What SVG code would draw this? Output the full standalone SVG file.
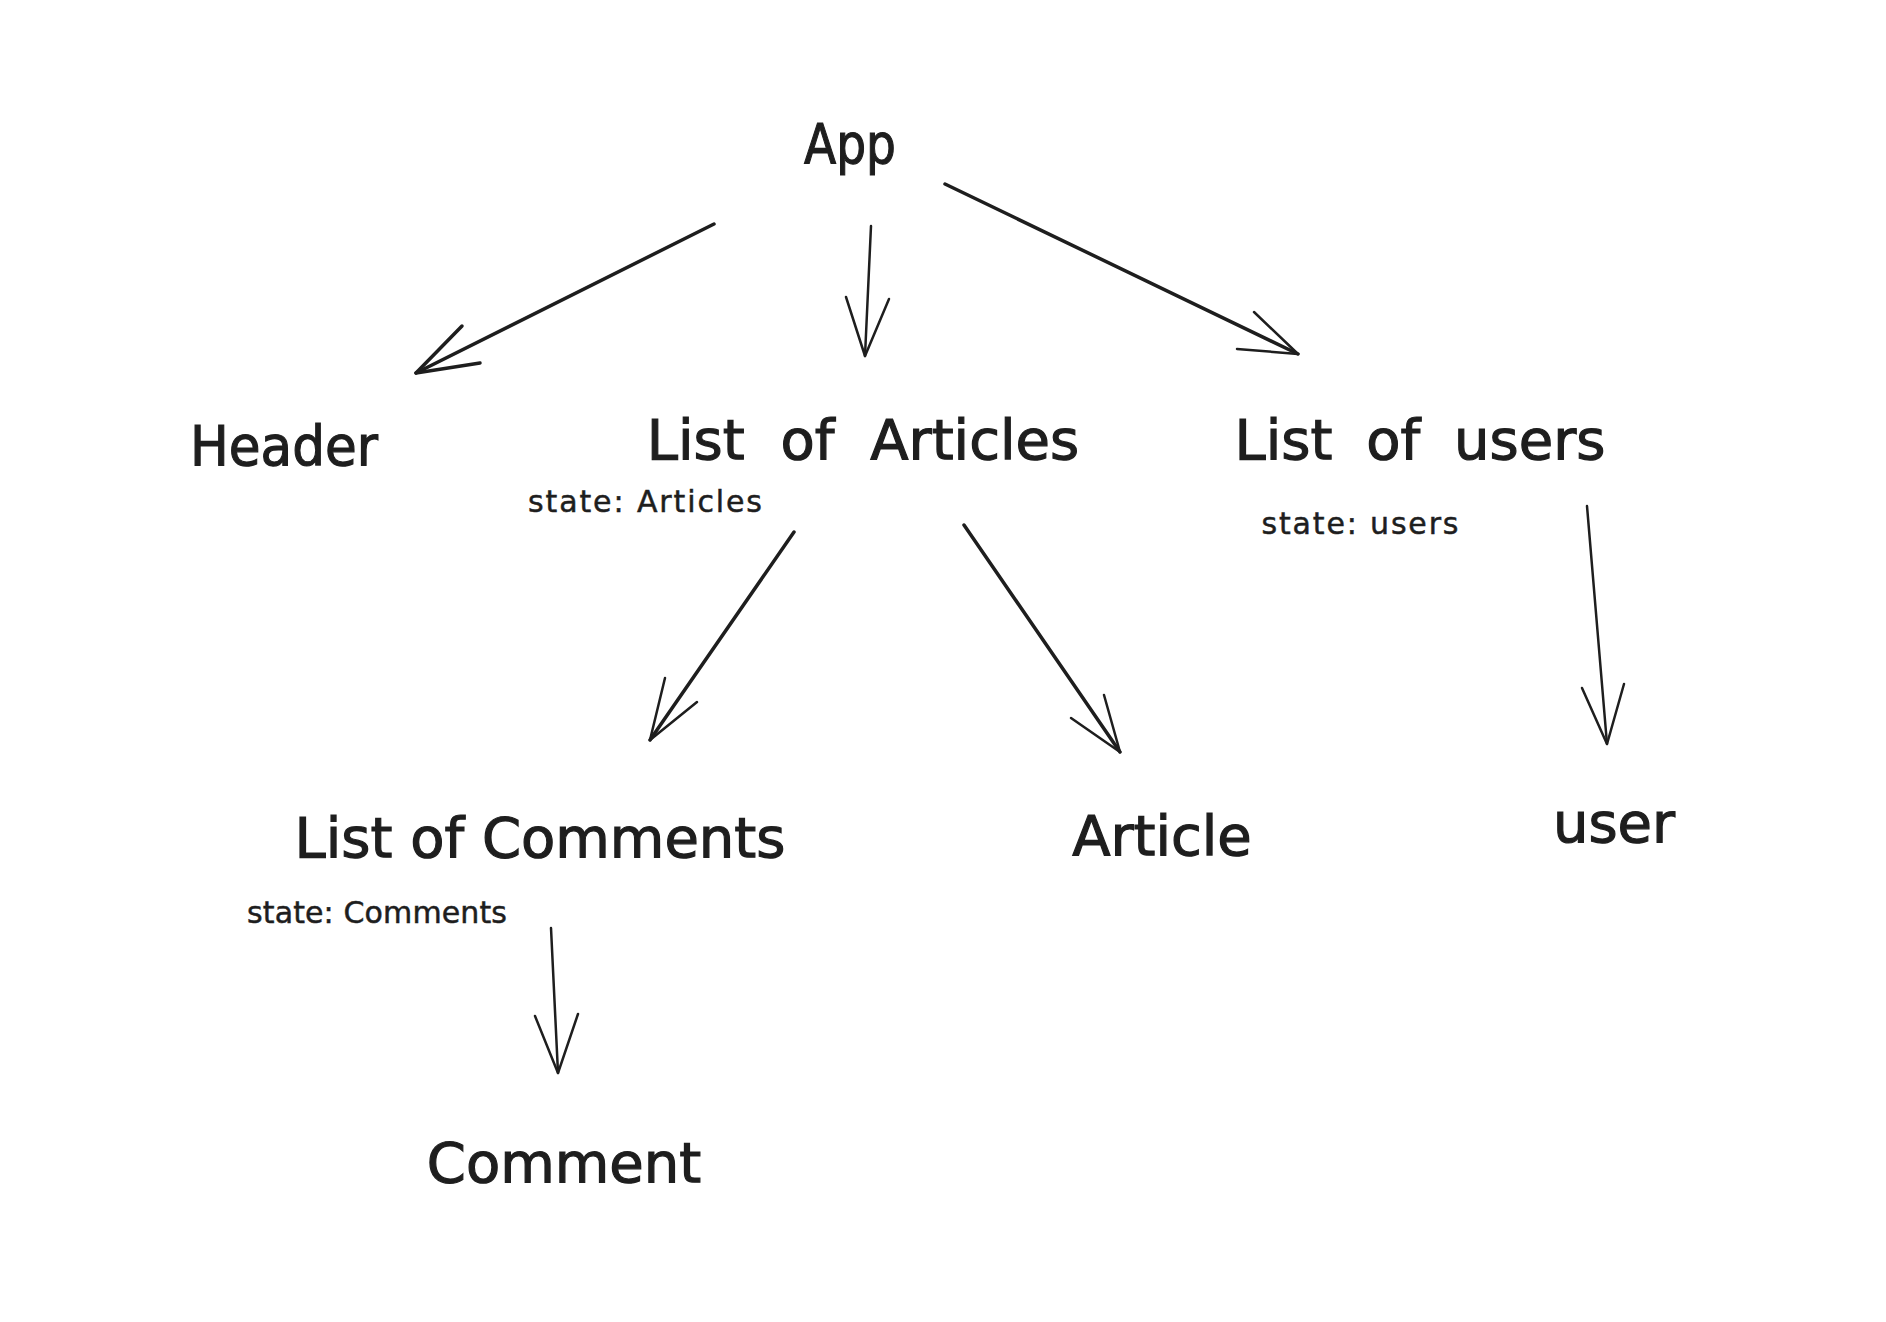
<svg xmlns="http://www.w3.org/2000/svg" width="1886" height="1322" viewBox="0 0 1886 1322">
<style>
.bg{fill:#ffffff}
.lbl{font-family:"DejaVu Sans","Liberation Sans",sans-serif;font-size:56px;fill:#1e1e1e;stroke:#1e1e1e;stroke-width:1.2;text-anchor:middle}
.sm{font-family:"DejaVu Sans","Liberation Sans",sans-serif;font-size:30px;fill:#1e1e1e;stroke:#1e1e1e;stroke-width:0.5;text-anchor:middle}
.ln{fill:none;stroke:#1e1e1e;stroke-width:2.5;stroke-linecap:round;stroke-linejoin:round}
.thick{stroke-width:3.5}
</style>
<rect class="bg" x="0" y="0" width="1886" height="1322"/>
<g id="connectors">
  <g id="app-header"><path class="ln thick" d="M714,224 L416,373"/><path class="ln thick" d="M462,326 L416,373 L480,363"/></g>
  <g id="app-articles"><path class="ln" d="M871,226 L865,356"/><path class="ln" d="M846,297 L865,356 L889,299"/></g>
  <g id="app-users"><path class="ln thick" d="M945,184 L1298,354"/><path class="ln" d="M1254,312 L1298,354 L1237,349"/></g>
  <g id="articles-comments"><path class="ln thick" d="M794,532 L650,740"/><path class="ln" d="M665,678 L650,740 L697,702"/></g>
  <g id="articles-article"><path class="ln thick" d="M964,525 L1120,752"/><path class="ln" d="M1104,695 L1120,752 L1071,718"/></g>
  <g id="users-user"><path class="ln" d="M1587,506 L1607,744"/><path class="ln" d="M1582,688 L1607,744 L1624,684"/></g>
  <g id="comments-comment"><path class="ln" d="M551,928 L558,1073"/><path class="ln" d="M535,1016 L558,1073 L578,1014"/></g>
</g>
<g id="node-app"><text class="lbl" x="850" y="163" textLength="92" lengthAdjust="spacingAndGlyphs">App</text></g>
<g id="node-header"><text class="lbl" x="284" y="465" textLength="188" lengthAdjust="spacingAndGlyphs">Header</text></g>
<g id="node-list-articles">
  <text class="lbl" x="863" y="459" word-spacing="18">List of Articles</text>
  <text class="sm" x="645" y="512" textLength="234">state: Articles</text>
</g>
<g id="node-list-users">
  <text class="lbl" x="1420" y="459" word-spacing="16">List of users</text>
  <text class="sm" x="1360" y="534" textLength="197">state: users</text>
</g>
<g id="node-list-comments">
  <text class="lbl" x="540" y="857">List of Comments</text>
  <text class="sm" x="377" y="923" textLength="260">state: Comments</text>
</g>
<g id="node-article"><text class="lbl" x="1162" y="855">Article</text></g>
<g id="node-user"><text class="lbl" x="1614" y="842">user</text></g>
<g id="node-comment"><text class="lbl" x="564" y="1182">Comment</text></g>
</svg>
